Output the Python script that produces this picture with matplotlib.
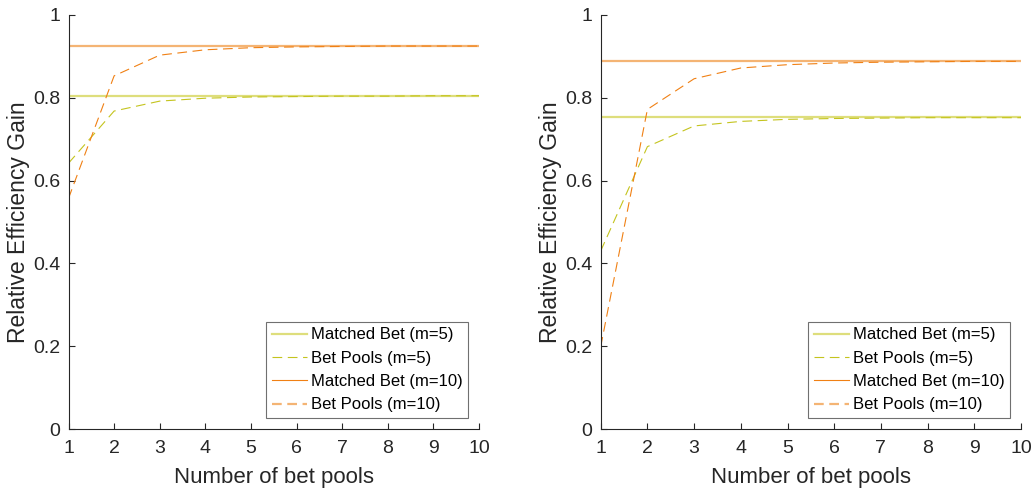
import numpy as np
import matplotlib
matplotlib.use('Agg')
import matplotlib.pyplot as plt
from matplotlib.lines import Line2D

plt.rcParams['font.family'] = ['Liberation Sans', 'DejaVu Sans']
plt.rcParams['lines.scale_dashes'] = False

pools = np.arange(1, 11)

# left panel
matched5_a = 0.805
matched10_a = 0.926
pools5_a = [0.642, 0.768, 0.792, 0.799, 0.802, 0.803, 0.804, 0.804, 0.805, 0.805]
pools10_a = [0.557, 0.853, 0.903, 0.916, 0.921, 0.923, 0.924, 0.925, 0.925, 0.925]

# right panel
matched5_b = 0.753
matched10_b = 0.890
pools5_b = [0.430, 0.682, 0.732, 0.743, 0.748, 0.750, 0.751, 0.752, 0.752, 0.752]
pools10_b = [0.199, 0.772, 0.846, 0.872, 0.880, 0.884, 0.886, 0.887, 0.888, 0.888]

yticks = [0, 0.2, 0.4, 0.6, 0.8, 1]
ytick_labels = ['0', '0.2', '0.4', '0.6', '0.8', '1']
legend_labels = ['Matched Bet (m=5)', 'Bet Pools (m=5)',
                 'Matched Bet (m=10)', 'Bet Pools (m=10)']

pale_yel = '#dede7c'
dark_yel = '#c4c41e'
dark_org = '#f08014'
pale_org = '#f4b474'
axcol = '#262626'
dash = (0, (7, 4))

fig = plt.figure(figsize=(10.35, 4.9), dpi=100)
W, H = 1035., 490.
boxes = [(68.5, 479), (600.7, 1021)]
panels = [(matched5_a, matched10_a, pools5_a, pools10_a),
          (matched5_b, matched10_b, pools5_b, pools10_b)]

for (x0, x1), (m5, m10, p5, p10) in zip(boxes, panels):
    ax = fig.add_axes([x0 / W, (H - 429) / H, (x1 - x0) / W, (429 - 15) / H])
    ax.plot(pools, np.full(pools.size, m5), color=pale_yel, lw=1.6)
    ax.plot(pools, p5, color=dark_yel, lw=0.8, linestyle=dash)
    ax.plot(pools, np.full(pools.size, m10), color=pale_org, lw=1.6)
    ax.plot(pools, p10, color=dark_org, lw=0.8, linestyle=dash)

    ax.set_xlim(1, 10)
    ax.set_ylim(0, 1)
    ax.set_xticks(pools)
    ax.set_yticks(yticks)
    ax.set_yticklabels(ytick_labels)
    ax.spines['right'].set_visible(False)
    ax.spines['top'].set_visible(False)
    for s in ['left', 'bottom']:
        ax.spines[s].set_color(axcol)
        ax.spines[s].set_linewidth(0.8)
    ax.tick_params(direction='in', length=4, width=0.8, colors=axcol,
                   labelsize=14)
    ax.tick_params(axis='x', pad=8)
    ax.tick_params(axis='y', pad=6)
    ax.set_xlabel('Number of bet pools', fontsize=16, color=axcol, labelpad=7)
    ax.set_ylabel('Relative Efficiency Gain', fontsize=16.5, color=axcol, labelpad=2)

    handles = [Line2D([], [], color=pale_yel, lw=1.6),
               Line2D([], [], color=dark_yel, lw=0.8, linestyle=dash),
               Line2D([], [], color=dark_org, lw=0.8),
               Line2D([], [], color=pale_org, lw=1.6, linestyle=dash)]
    leg = ax.legend(handles, legend_labels, loc='lower right', fontsize=12,
                    fancybox=False, framealpha=1, edgecolor='#707070',
                    borderaxespad=0.65, handlelength=2.1, handletextpad=0.2,
                    labelspacing=0.5, borderpad=0.35)
    leg.get_frame().set_linewidth(0.8)

fig.savefig('out.png', dpi=100)
